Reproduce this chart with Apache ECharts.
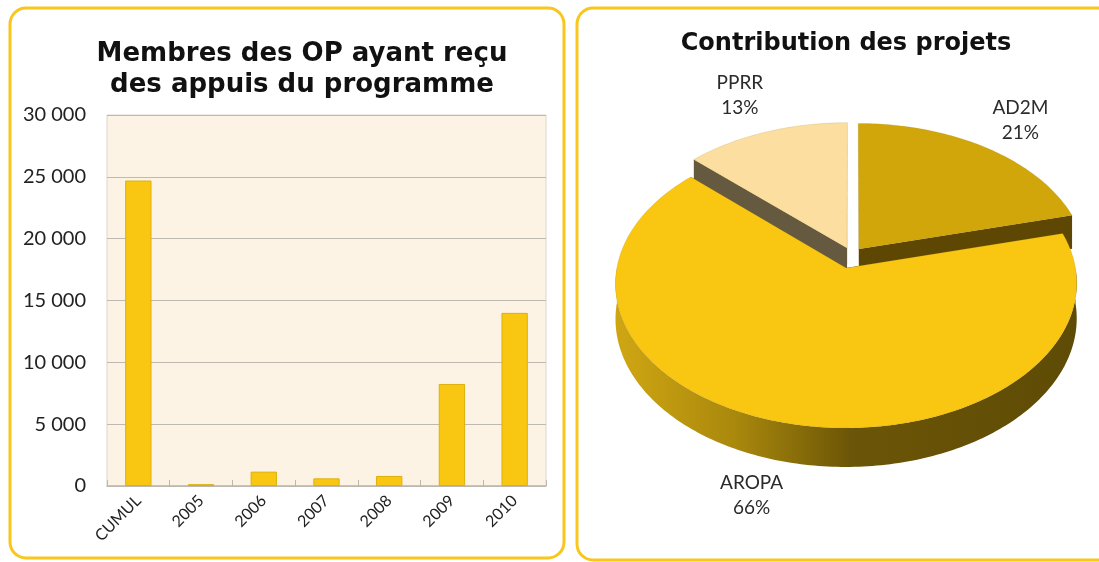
<!DOCTYPE html>
<html>
<head>
<meta charset="utf-8">
<script src="https://cdn.jsdelivr.net/npm/echarts@6/dist/echarts.min.js"></script>
<style>
  html, body { margin: 0; padding: 0; background: #ffffff; }
  #chart { width: 1099px; height: 562px; }
</style>
</head>
<body>
<div id="chart"></div>
<script>
// Bar chart: members of producer organisations supported
const barCategories = ['CUMUL', '2005', '2006', '2007', '2008', '2009', '2010'];
const barValues = [24700, 150, 1160, 620, 810, 8250, 14000];
const yAxisMax = 30000;
const yAxisStep = 5000;

// Pie chart: contribution of each project (percent)
const projectNames = ['AD2M', 'AROPA', 'PPRR'];
const projectShares = [21, 66, 13];

// Pie geometry (tilted disc with a little perspective)
const PIE = { cx: 851.7, cy: 254.7, rx: 227, ry: 140, persp: 0.106, depth: 34.5 };
const explodeBy = { AD2M: 0.052, AROPA: 0.097, PPRR: 0.052 };
const labelRadius = { AD2M: 1.35, AROPA: 1.50, PPRR: 1.41 };
const topColor = { AD2M: '#D1A60B', AROPA: '#F9C712', PPRR: '#FCDFA0' };
const faceColor = { AD2M: '#5E4703', AROPA: '#6A5306', PPRR: '#655A40' };

const total = projectShares.reduce((a, b) => a + b, 0);
const startAngles = [];
projectShares.reduce((acc, v, i) => { startAngles[i] = acc; return acc + v / total * 360; }, 0);

function project(u, v) {
  const w = 1 - PIE.persp * v;
  return [PIE.cx + PIE.rx * u / w, PIE.cy + PIE.ry * v / w, w];
}
function rad(d) { return d * Math.PI / 180; }
function ptAt(ou, ov, r, deg) {
  return project(ou + r * Math.sin(rad(deg)), ov - r * Math.cos(rad(deg)));
}
function drop(p) { return [p[0], p[1] + PIE.depth / p[2]]; }

function renderSlice(params, api) {
  const i = params.dataIndex;
  const name = projectNames[i];
  const value = api.value(0);
  const a0 = startAngles[i];
  const a1 = a0 + value / total * 360;
  const mid = (a0 + a1) / 2;
  const e = explodeBy[name];
  const ou = e * Math.sin(rad(mid));
  const ov = -e * Math.cos(rad(mid));
  const children = [];

  // top face
  const apex = project(ou, ov);
  const topPts = [[apex[0], apex[1]]];
  const steps = Math.max(4, Math.ceil(a1 - a0));
  for (let k = 0; k <= steps; k++) {
    const p = ptAt(ou, ov, 1, a0 + (a1 - a0) * k / steps);
    topPts.push([p[0], p[1]]);
  }

  // radial faces
  [a0, a1].forEach(function (ang) {
    const o = ptAt(ou, ov, 1, ang);
    const ob = drop(o), ab = drop(apex);
    children.push({
      type: 'polygon', z2: 1,
      shape: { points: [[apex[0], apex[1]], [o[0], o[1]], ob, ab] },
      style: { fill: faceColor[name] }
    });
  });

  // front rim
  const w0 = Math.max(a0, 90), w1 = Math.min(a1, 270);
  if (w1 > w0) {
    const n = Math.ceil(w1 - w0);
    const upper = [], lower = [];
    for (let k = 0; k <= n; k++) {
      const p = ptAt(ou, ov, 1, w0 + (w1 - w0) * k / n);
      upper.push([p[0], p[1]]);
      lower.unshift(drop(p));
    }
    children.push({
      type: 'polygon', z2: 2,
      shape: { points: upper.concat(lower) },
      style: {
        fill: {
          type: 'linear', x: PIE.cx - PIE.rx, y: 0, x2: PIE.cx + PIE.rx, y2: 0, global: true,
          colorStops: [
            { offset: 0, color: '#CDA412' },
            { offset: 0.25, color: '#A8870C' },
            { offset: 0.5, color: '#6B5507' },
            { offset: 1, color: '#5E4B05' }
          ]
        }
      }
    });
  }

  children.push({
    type: 'polygon', z2: 3,
    shape: { points: topPts },
    style: { fill: topColor[name], stroke: 'rgba(150,110,0,0.25)', lineWidth: 0.6 }
  });

  // label
  const lp = ptAt(0, 0, labelRadius[name], mid);
  children.push({
    type: 'text', z2: 4,
    style: {
      text: name + '\n' + Math.round(value / total * 100) + '%',
      x: lp[0], y: lp[1],
      align: 'center', verticalAlign: 'middle',
      fill: '#2b2b2b', font: '19px Lato', lineHeight: 25
    }
  });

  return { type: 'group', children: children };
}

const chart = echarts.init(document.getElementById('chart'), null, { renderer: 'canvas' });

chart.setOption({
  animation: false,
  backgroundColor: '#ffffff',
  graphic: [
    { type: 'rect', z: -10, shape: { x: 10, y: 8, width: 554, height: 550, r: 16 },
      style: { fill: '#ffffff', stroke: '#F8C61C', lineWidth: 3 } },
    { type: 'rect', z: -10, shape: { x: 577, y: 8, width: 540, height: 552, r: 16 },
      style: { fill: '#ffffff', stroke: '#F8C61C', lineWidth: 3 } }
  ],
  title: [
    {
      text: 'Membres des OP ayant reçu\ndes appuis du programme',
      left: 297, top: 34, textAlign: 'center',
      textStyle: { fontFamily: 'DejaVu Sans', fontWeight: 'bold', fontSize: 26, lineHeight: 31, color: '#111111' }
    },
    {
      text: 'Contribution des projets',
      left: 841, top: 27, textAlign: 'center',
      textStyle: { fontFamily: 'DejaVu Sans', fontWeight: 'bold', fontSize: 24, color: '#111111' }
    }
  ],
  grid: {
    left: 107, top: 115, width: 439, height: 371,
    show: true, backgroundColor: '#FDF3E4', borderColor: '#DCD6CC', borderWidth: 1
  },
  xAxis: {
    type: 'category',
    data: barCategories,
    axisLine: { lineStyle: { color: '#BDB8AE', width: 1.5 } },
    axisTick: { show: true, inside: true, length: 6, lineStyle: { color: '#BDB8AE' } },
    axisLabel: { rotate: 45, fontFamily: 'Lato', fontSize: 16, color: '#222222', margin: 12 }
  },
  yAxis: {
    type: 'value',
    min: 0, max: yAxisMax, interval: yAxisStep,
    axisLine: { show: false },
    axisTick: { show: false },
    splitLine: { lineStyle: { color: '#BFBAB1', width: 1 } },
    axisLabel: {
      fontFamily: 'Lato', fontSize: 20, color: '#222222', margin: 21,
      formatter: function (v) { return String(v).replace(/\B(?=(\d{3})+(?!\d))/g, ' '); }
    }
  },
  series: [
    {
      type: 'bar',
      data: barValues,
      barWidth: '42%',
      itemStyle: { color: '#F9C712', borderColor: '#DDB00C', borderWidth: 1 }
    },
    {
      type: 'custom',
      coordinateSystem: 'none',
      silent: true,
      renderItem: renderSlice,
      data: projectShares.map(function (v, i) { return { name: projectNames[i], value: [v] }; })
    }
  ]
});
</script>
</body>
</html>
